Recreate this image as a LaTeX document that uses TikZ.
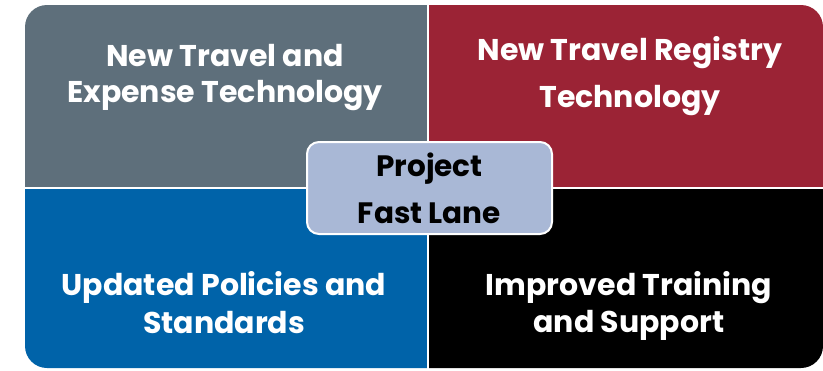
\documentclass[tikz,border=0pt]{standalone}
\usepackage{fontspec}
\setmainfont{Poppins}
\definecolor{slate}{HTML}{5E6F7B}
\definecolor{wine}{HTML}{9B2335}
\definecolor{royal}{HTML}{0063A9}
\definecolor{hubfill}{HTML}{A9B8D6}
\tikzset{
  label/.style={text=white, align=center, anchor=base,
    font=\bfseries\fontsize{30}{36}\selectfont},
  hubbox/.style={draw=white, line width=2pt, fill=hubfill, rounded corners=12pt,
    minimum width=245pt, minimum height=92pt, align=center,
    font=\bfseries\fontsize{29.5}{47}\selectfont}
}
\begin{document}
\begin{tikzpicture}[x=1pt, y=-1pt]
    \useasboundingbox (0,0) rectangle (823,370);

    % quadrants, cut out of one rounded block
    \begin{scope}
      \clip (0,0) rectangle (428,188);
      \fill[slate, rounded corners=22pt] (25,5) rectangle (823,368);
    \end{scope}
    \begin{scope}
      \clip (428,0) rectangle (823,188);
      \fill[wine, rounded corners=22pt] (25,5) rectangle (823,368);
    \end{scope}
    \begin{scope}
      \clip (0,188) rectangle (428,370);
      \fill[royal, rounded corners=22pt] (25,5) rectangle (823,368);
    \end{scope}
    \begin{scope}
      \clip (428,188) rectangle (823,370);
      \fill[black, rounded corners=22pt] (25,5) rectangle (823,368);
    \end{scope}

    % white gaps
    \draw[white, line width=2pt] (428,0) -- (428,370);
    \draw[white, line width=2pt] (0,188) -- (823,188);

    % labels (anchored on the last baseline)
    \node(tl) [label] at (225,102) {New Travel and\\Expense Technology};
    \node(tr) [label, font=\bfseries\fontsize{30}{47}\selectfont] at (630,107) {New Travel Registry\\Technology};
    \node(bl) [label, font=\bfseries\fontsize{30}{38}\selectfont] at (224,333) {Updated Policies and\\Standards};
    \node(br) [label, font=\bfseries\fontsize{30}{37}\selectfont] at (629,332) {Improved Training\\and Support};

    % centre box
    \node(hub) [hubbox] at (429.5,188) {Project\\Fast Lane};

\end{tikzpicture}
\end{document}
